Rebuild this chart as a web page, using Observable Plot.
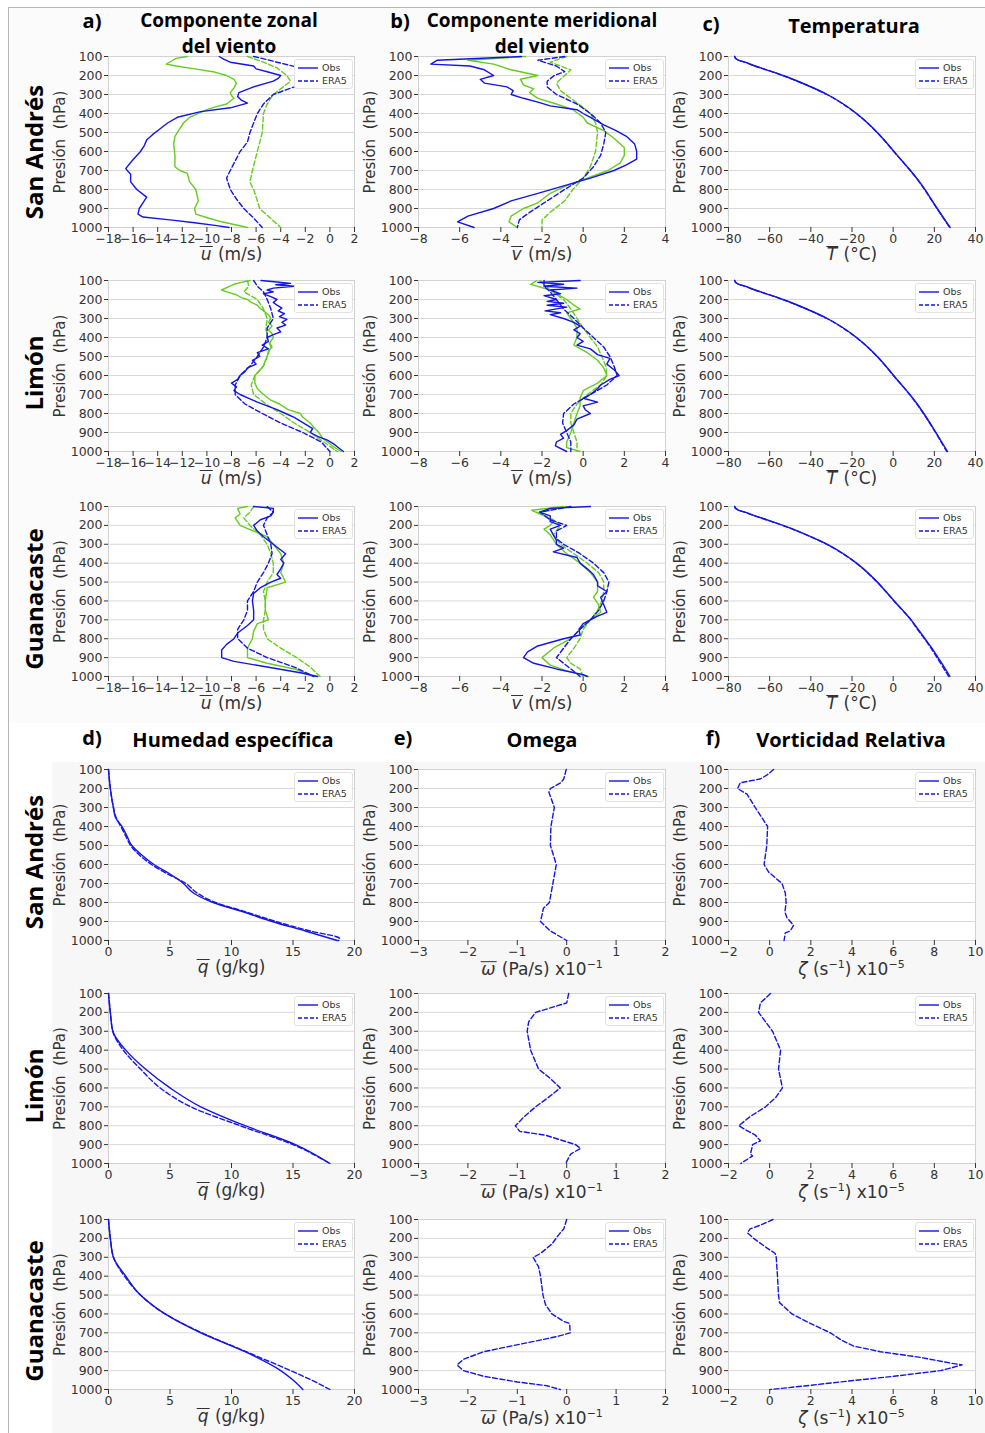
<!DOCTYPE html>
<html><head><meta charset="utf-8">
<script src="https://cdn.jsdelivr.net/npm/d3@7"></script>
<script src="https://cdn.jsdelivr.net/npm/@observablehq/plot@0.6"></script>
<style>
body{margin:0;background:#fff;}
#fig{position:relative;width:985px;height:1433px;overflow:hidden;font-family:"DejaVu Sans",sans-serif;color:#333;}
.bg{position:absolute;}
.ttl{position:absolute;font-family:"Open Sans",sans-serif;font-weight:700;font-size:20px;line-height:20px;height:20px;color:#000;white-space:nowrap;text-align:center;transform:translate(-50%,-50%);}
.ttl.two{font-size:19px;line-height:19px;height:19px;}
.rowl{position:absolute;font-family:"Open Sans",sans-serif;font-weight:700;font-size:24px;color:#000;white-space:nowrap;transform:translate(-50%,-50%) rotate(-90deg);}
.xl{position:absolute;font-size:17px;line-height:20px;white-space:nowrap;transform:translate(-50%,-50%);color:#333;}
.xl sup{font-size:11px;}
.ov{display:inline-block;font-style:italic;border-top:1.3px solid #333;line-height:15px;padding:0 1px;}
.leg{position:absolute;background:#fff;border:1px solid #e2e2e2;border-radius:3px;padding:1px 4px 1px 3px;font-size:9.5px;line-height:13px;color:#333;}
.leg div{display:flex;align-items:center;gap:4px;}
</style></head>
<body><div id="fig"></div>
<script>
// ---------- tick values ----------
const Y_TICKS = [100,200,300,400,500,600,700,800,900,1000];
const X_TICKS_U = [-18,-16,-14,-12,-10,-8,-6,-4,-2,0,2];
const X_TICKS_V = [-8,-6,-4,-2,0,2,4];
const X_TICKS_T = [-80,-60,-40,-20,0,20,40];
const X_TICKS_Q = [0,5,10,15,20];
const X_TICKS_W = [-3,-2,-1,0,1,2];
const X_TICKS_Z = [-2,0,2,4,6,8,10];
const STATIONS = ["San Andrés","Limón","Guanacaste"];
const LEGEND = ["Obs","ERA5"];

// ---------- data: [pressure hPa, value] ----------
// u (m/s) San Andrés
const u_SA_blue_obs = [[100,-9.0],[115,-8.6],[130,-8.1],[150,-6.2],[165,-6.0],[180,-5.1],[200,-4.0],[215,-4.2],[230,-4.6],[260,-6.2],[290,-7.4],[310,-7.5],[330,-7.2],[345,-6.7],[370,-8.1],[390,-10.5],[420,-12.4],[450,-13.2],[480,-13.8],[510,-14.4],[540,-14.9],[570,-15.1],[600,-15.4],[650,-16.1],[690,-16.6],[720,-16.2],[760,-16.2],[800,-15.7],[840,-14.9],[870,-15.2],[900,-15.5],[930,-15.6],[945,-15.2],[960,-13.0],[975,-11.0],[990,-9.2],[1000,-8.2]];
const u_SA_green_obs = [[100,-11.6],[110,-12.5],[125,-12.9],[140,-13.3],[150,-12.5],[165,-11.0],[180,-9.5],[200,-8.4],[220,-7.8],[240,-7.6],[265,-7.8],[290,-8.1],[305,-8.0],[320,-7.8],[350,-8.4],[365,-9.3],[380,-10.0],[420,-11.4],[450,-11.9],[480,-12.2],[520,-12.6],[560,-12.7],[620,-12.6],[680,-12.6],[700,-12.2],[715,-11.6],[760,-11.4],[800,-10.9],[860,-10.7],[900,-11.0],[930,-10.9],[950,-9.9],[970,-8.8],[1000,-6.7]];
const u_SA_blue_era5 = [[100,-6.2],[115,-5.2],[130,-4.3],[160,-2.4],[190,-1.9],[220,-1.8],[240,-2.2],[260,-2.9],[300,-4.6],[350,-5.4],[400,-5.9],[450,-6.2],[500,-6.5],[550,-6.7],[600,-7.3],[650,-7.7],[700,-8.1],[740,-8.4],[800,-8.1],[850,-7.6],[900,-7.0],[950,-6.2],[1000,-5.5]];
const u_SA_green_era5 = [[100,-6.7],[130,-5.4],[160,-4.3],[200,-3.5],[230,-3.2],[260,-3.8],[300,-4.6],[350,-5.1],[400,-5.4],[500,-5.5],[600,-5.9],[700,-6.3],[760,-6.5],[800,-6.2],[900,-5.7],[1000,-4.0]];
// u Limón
const u_LI_blue_obs = [[100,-5.6],[108,-4.3],[115,-3.2],[122,-4.4],[130,-2.9],[140,-4.6],[150,-5.1],[160,-4.6],[170,-5.4],[185,-4.8],[200,-4.3],[215,-4.6],[230,-4.3],[245,-3.9],[260,-4.2],[275,-3.7],[290,-4.1],[305,-3.5],[320,-3.9],[335,-3.6],[350,-4.3],[370,-4.0],[385,-4.6],[400,-5.1],[420,-5.0],[440,-5.5],[460,-5.0],[480,-5.9],[500,-5.7],[520,-6.3],[540,-6.0],[560,-6.7],[580,-6.9],[600,-7.3],[620,-7.5],[640,-8.0],[660,-7.6],[680,-7.8],[700,-7.3],[720,-6.6],[740,-5.9],[760,-5.1],[780,-4.3],[800,-3.6],[820,-2.9],[840,-2.4],[860,-1.9],[880,-1.4],[900,-1.6],[920,-1.0],[940,-0.2],[960,0.3],[980,0.7],[1000,1.1]];
const u_LI_green_obs = [[100,-6.5],[110,-7.2],[120,-7.8],[135,-8.3],[150,-8.8],[160,-8.4],[175,-7.6],[190,-7.2],[200,-6.7],[215,-6.4],[230,-5.9],[245,-5.7],[260,-5.4],[280,-5.0],[300,-4.8],[320,-5.0],[340,-4.7],[360,-5.0],[380,-4.7],[400,-4.6],[430,-4.9],[450,-4.7],[470,-5.0],[500,-5.1],[530,-5.3],[550,-5.4],[580,-5.8],[600,-6.1],[640,-6.1],[670,-5.9],[700,-5.4],[730,-4.8],[750,-4.1],[780,-3.4],[800,-2.4],[820,-2.2],[850,-1.6],[880,-1.2],[900,-0.9],[930,-0.6],[950,-0.2],[975,0.3],[1000,0.9]];
const u_LI_blue_era5 = [[100,-6.2],[130,-5.9],[160,-5.4],[200,-5.1],[250,-4.8],[300,-4.6],[350,-5.1],[400,-5.1],[450,-5.4],[500,-5.9],[550,-6.5],[600,-7.3],[650,-7.7],[700,-7.7],[750,-6.9],[800,-5.5],[850,-4.0],[900,-2.2],[950,-0.7],[1000,0.0]];
const u_LI_green_era5 = [[100,-6.7],[130,-6.6],[160,-7.0],[200,-5.9],[250,-5.4],[300,-5.1],[350,-5.2],[400,-5.1],[450,-4.8],[500,-5.1],[550,-5.4],[600,-6.1],[650,-6.4],[700,-6.2],[750,-5.2],[800,-4.0],[850,-2.9],[900,-1.6],[950,-0.5],[1000,0.6]];
// u Guanacaste
const u_GU_blue_obs = [[100,-6.2],[110,-4.6],[130,-4.6],[150,-4.8],[170,-5.65],[200,-6.2],[230,-5.9],[260,-5.4],[300,-4.6],[330,-4.0],[350,-3.6],[380,-4.0],[400,-3.75],[430,-4.0],[460,-4.3],[480,-4.0],[500,-4.8],[530,-5.65],[560,-6.2],[600,-6.3],[650,-6.2],[700,-6.2],[730,-6.7],[770,-7.5],[800,-7.8],[830,-8.4],[860,-8.8],[900,-8.8],[920,-7.8],[950,-5.1],[980,-2.4],[1000,-1.0]];
const u_GU_green_obs = [[100,-6.7],[110,-7.5],[140,-7.3],[160,-7.7],[200,-7.3],[230,-6.2],[260,-5.1],[300,-4.6],[350,-4.0],[400,-3.75],[450,-4.0],[480,-3.75],[500,-3.6],[530,-5.1],[600,-5.25],[650,-5.25],[680,-5.1],[700,-5.0],[720,-5.9],[760,-6.2],[800,-6.3],[850,-6.7],[900,-6.7],[930,-5.1],[960,-2.9],[1000,-1.3]];
const u_GU_blue_era5 = [[100,-5.1],[130,-4.6],[160,-5.1],[200,-5.4],[250,-5.1],[300,-4.8],[350,-4.7],[400,-5.0],[450,-5.4],[500,-5.9],[550,-6.2],[600,-6.7],[650,-6.7],[700,-7.0],[750,-7.5],[800,-7.5],[850,-6.7],[900,-5.1],[950,-2.9],[1000,-1.3]];
const u_GU_green_era5 = [[100,-6.2],[130,-6.5],[160,-7.0],[200,-6.5],[250,-5.65],[300,-5.1],[350,-4.8],[400,-4.6],[450,-4.6],[500,-5.1],[550,-5.4],[600,-5.25],[650,-5.25],[700,-5.4],[750,-5.4],[800,-5.1],[850,-4.0],[900,-2.7],[950,-1.6],[1000,-0.8]];

// v (m/s) San Andrés
const v_SA_blue_obs = [[100,-3.0],[120,-7.1],[140,-7.4],[150,-5.5],[170,-4.8],[200,-4.35],[220,-5.0],[240,-4.8],[260,-3.7],[280,-3.4],[300,-3.5],[320,-2.9],[340,-2.2],[360,-1.6],[380,-0.3],[400,0.0],[420,0.35],[460,1.0],[490,1.6],[520,2.1],[560,2.5],[600,2.6],[640,2.6],[670,2.1],[700,1.5],[740,0.35],[780,-0.9],[820,-2.2],[860,-3.5],[900,-4.35],[940,-5.6],[970,-6.1],[1000,-5.3]];
const v_SA_green_obs = [[100,-2.8],[120,-5.6],[140,-4.35],[170,-3.5],[200,-2.2],[220,-3.05],[250,-2.9],[270,-2.4],[290,-2.6],[320,-2.2],[350,-1.3],[380,-0.5],[420,0.0],[450,0.2],[490,1.0],[530,1.5],[580,2.0],[620,2.0],[660,1.8],[700,1.2],[740,0.2],[780,-0.8],[820,-1.6],[870,-2.2],[900,-2.9],[940,-3.5],[970,-3.6],[1000,-3.2]];
const v_SA_blue_era5 = [[100,-0.9],[120,-2.2],[150,-1.3],[180,-0.9],[200,-1.4],[230,-1.75],[260,-1.75],[300,-1.3],[350,-0.3],[400,0.35],[450,0.85],[500,1.1],[560,1.0],[620,0.85],[680,0.5],[740,0.0],[800,-0.9],[860,-1.75],[920,-2.6],[960,-3.1],[1000,-3.2]];
const v_SA_green_era5 = [[100,-0.8],[130,-1.6],[170,-0.6],[200,-0.9],[240,-1.3],[280,-1.1],[320,-0.6],[360,-0.1],[400,0.35],[450,0.6],[500,0.7],[600,0.6],[680,0.35],[740,0.0],[800,-0.5],[860,-0.9],[920,-1.6],[960,-2.0],[1000,-2.0]];
// v Limón
const v_LI_blue_obs = [[100,-0.15],[110,-2.2],[120,-0.95],[130,-1.9],[140,-0.3],[150,-1.6],[170,-1.1],[180,-1.9],[200,-1.3],[210,-1.75],[220,-0.95],[230,-1.75],[240,-0.8],[260,-1.85],[270,-1.1],[280,-1.6],[300,-0.95],[320,-0.45],[340,-0.15],[360,-0.45],[380,-0.15],[400,-0.3],[420,0.0],[440,-0.3],[460,0.35],[490,0.7],[510,1.3],[540,1.15],[570,1.5],[600,1.75],[620,1.3],[650,0.85],[670,0.7],[700,0.35],[720,0.0],[740,0.7],[760,0.0],[780,0.1],[800,0.35],[830,-0.3],[860,-0.45],[890,-0.8],[910,-1.1],[930,-0.95],[950,-1.3],[970,-1.35],[1000,-0.8]];
const v_LI_green_obs = [[100,-2.25],[120,-2.55],[150,-1.6],[200,-0.8],[230,-0.45],[250,-0.15],[270,-0.8],[300,-0.6],[350,-0.3],[400,-0.3],[440,-0.45],[480,0.2],[520,0.7],[560,1.0],[600,1.15],[640,0.7],[680,0.0],[720,-0.15],[760,-0.15],[800,-0.3],[850,-0.45],[900,-0.6],[950,-0.8],[980,-0.8],[1000,-0.15]];
const v_LI_blue_era5 = [[100,-1.9],[130,-1.9],[160,-1.6],[200,-1.3],[250,-0.95],[300,-0.45],[350,0.0],[400,0.5],[450,1.0],[500,1.3],[550,1.5],[600,1.65],[650,1.15],[700,0.35],[750,-0.45],[800,-0.95],[850,-1.0],[900,-0.8],[950,-0.6],[1000,-0.6]];
const v_LI_green_era5 = [[100,-2.1],[150,-1.6],[200,-0.95],[250,-0.6],[300,-0.3],[350,0.0],[400,0.35],[450,0.7],[500,0.9],[550,1.1],[600,1.15],[650,0.85],[700,0.2],[750,-0.3],[800,-0.6],[850,-0.6],[900,-0.45],[950,-0.3],[1000,-0.3]];
// v Guanacaste
const v_GU_blue_obs = [[100,0.35],[110,-1.6],[130,-2.1],[150,-1.6],[180,-1.6],[200,-1.1],[220,-1.6],[250,-1.45],[280,-1.3],[300,-1.3],[320,-0.95],[340,-1.45],[370,-0.3],[400,-0.15],[430,0.2],[460,0.5],[500,0.7],[520,0.7],[550,1.15],[580,0.85],[620,1.0],[660,1.15],[680,0.7],[720,0.0],[750,-0.2],[780,-0.15],[800,-0.95],[840,-2.25],[870,-2.7],[900,-2.9],[930,-2.4],[960,-1.3],[990,0.0],[1000,0.2]];
const v_GU_green_obs = [[100,-0.95],[120,-2.5],[150,-1.9],[180,-1.45],[200,-1.6],[220,-1.9],[250,-1.6],[300,-1.3],[350,-0.8],[400,-0.15],[450,0.35],[500,0.7],[550,0.7],[580,0.5],[620,0.75],[660,0.85],[700,0.35],[750,-0.15],[800,-0.6],[850,-1.45],[900,-2.0],[940,-1.6],[970,-0.8],[1000,0.25]];
const v_GU_blue_era5 = [[100,-0.6],[130,-2.1],[170,-1.6],[200,-0.8],[230,-1.3],[270,-1.3],[300,-0.95],[350,-0.15],[400,0.5],[450,1.0],[500,1.25],[550,1.15],[600,1.0],[650,0.75],[700,0.35],[750,-0.15],[800,-0.6],[850,-0.95],[900,-1.3],[930,-0.95],[960,-0.6],[1000,-0.15]];
const v_GU_green_era5 = [[100,-0.8],[130,-2.25],[170,-1.45],[200,-1.1],[250,-1.45],[300,-1.1],[350,-0.45],[400,0.2],[450,0.75],[500,1.0],[550,1.0],[600,0.9],[650,0.7],[700,0.35],[750,0.0],[800,-0.15],[850,-0.45],[900,-0.8],[930,-0.6],[960,-0.15],[1000,0.0]];

// T (°C)
const T_SA_obs = [[100,-77],[110,-76.5],[120,-75],[130,-72],[140,-69.5],[150,-67],[170,-61.5],[200,-53.5],[225,-47.5],[250,-42],[275,-36.8],[300,-32],[350,-24.2],[400,-17.8],[450,-12.4],[500,-7.7],[550,-3.5],[600,0.4],[650,4.4],[700,8.4],[750,12.1],[800,15.4],[850,18.4],[900,21.4],[950,24.5],[1000,27.7]];
const T_SA_era5 = [[100,-77],[110,-76.5],[120,-75],[130,-72.2],[140,-69.7],[150,-67.2],[170,-61.7],[200,-53.7],[225,-47.7],[250,-42.2],[275,-37],[300,-32.2],[350,-24.4],[400,-17.9],[450,-12.5],[500,-7.8],[550,-3.6],[600,0.3],[650,4.3],[700,8.3],[750,12.0],[800,15.3],[850,18.3],[900,21.3],[950,24.4],[1000,27.5]];
const T_LI_obs = [[100,-77],[110,-76.5],[120,-75],[130,-72],[140,-69.5],[150,-67],[170,-61.5],[200,-53.5],[225,-47.5],[250,-42],[275,-36.8],[300,-32],[350,-24.2],[400,-17.8],[450,-12.4],[500,-7.7],[550,-3.6],[600,0.2],[650,4.2],[700,8.1],[750,11.7],[800,14.9],[850,17.9],[900,20.8],[950,23.6],[1000,26.4]];
const T_LI_era5 = [[100,-77],[110,-76.5],[120,-75],[130,-72.2],[140,-69.7],[150,-67.2],[170,-61.7],[200,-53.7],[225,-47.7],[250,-42.2],[275,-37],[300,-32.2],[350,-24.4],[400,-17.9],[450,-12.5],[500,-7.8],[550,-3.7],[600,0.1],[650,4.1],[700,8.0],[750,11.5],[800,14.7],[850,17.7],[900,20.6],[950,23.3],[1000,26.0]];
const T_GU_obs = [[100,-77],[110,-76.5],[120,-75],[130,-72],[140,-69.5],[150,-67],[170,-61.5],[200,-53.5],[225,-47.5],[250,-42],[275,-36.8],[300,-32],[350,-24.2],[400,-17.8],[450,-12.4],[500,-7.7],[550,-3.5],[600,0.5],[650,4.7],[700,8.7],[750,12.1],[800,15.5],[850,18.8],[900,21.8],[950,24.8],[1000,27.6]];
const T_GU_era5 = [[100,-77],[110,-76.5],[120,-75],[130,-72.2],[140,-69.7],[150,-67.2],[170,-61.7],[200,-53.7],[225,-47.7],[250,-42.2],[275,-37],[300,-32.2],[350,-24.4],[400,-17.9],[450,-12.5],[500,-7.8],[550,-3.6],[600,0.4],[650,4.6],[700,8.6],[750,11.8],[800,15.2],[850,18.4],[900,21.3],[950,24.2],[1000,27.0]];

// q (g/kg)
const q_SA_obs = [[100,0.0],[200,0.15],[300,0.4],[350,0.55],[400,1.1],[450,1.5],[500,1.9],[550,2.7],[600,3.7],[650,5.0],[700,6.1],[750,6.9],[800,8.5],[850,11.0],[900,13.3],[950,16.0],[1000,18.6]];
const q_SA_era5 = [[100,0.0],[200,0.15],[300,0.4],[350,0.6],[400,1.0],[450,1.4],[500,1.8],[550,2.5],[600,3.5],[650,4.8],[700,6.3],[750,7.2],[800,8.7],[850,11.2],[900,13.6],[950,16.4],[990,18.8],[1000,18.7]];
const q_LI_obs = [[100,0.0],[200,0.15],[300,0.35],[400,1.4],[500,3.0],[600,5.0],[700,7.5],[800,11.1],[900,15.2],[1000,18.0]];
const q_LI_era5 = [[100,0.0],[200,0.15],[300,0.35],[400,1.2],[500,2.6],[600,4.2],[700,6.7],[800,10.7],[900,15.0],[1000,18.0]];
const q_GU_obs = [[100,0.0],[200,0.15],[300,0.4],[400,1.4],[500,2.6],[600,4.6],[700,7.5],[800,11.1],[900,14.0],[950,15.0],[1000,15.8]];
const q_GU_era5 = [[100,0.0],[200,0.15],[300,0.4],[400,1.3],[500,2.6],[600,4.6],[700,7.6],[800,11.2],[900,14.8],[950,16.5],[1000,18.0]];

// omega (Pa/s x10^-1), ERA5
const w_SA_era5 = [[100,-0.01],[150,-0.06],[170,-0.12],[200,-0.33],[220,-0.36],[300,-0.25],[400,-0.32],[500,-0.33],[600,-0.21],[700,-0.28],[800,-0.35],[830,-0.47],[900,-0.53],[950,-0.33],[1000,0.0]];
const w_LI_era5 = [[100,0.04],[150,0.0],[200,-0.63],[250,-0.77],[300,-0.8],[400,-0.73],[500,-0.57],[550,-0.33],[600,-0.13],[650,-0.37],[700,-0.63],[750,-0.85],[800,-1.04],[830,-0.95],[850,-0.43],[900,0.18],[920,0.28],[950,0.08],[1000,-0.02]];
const w_GU_era5 = [[100,0.0],[150,-0.06],[180,-0.16],[230,-0.3],[280,-0.53],[300,-0.68],[350,-0.57],[400,-0.53],[500,-0.48],[550,-0.43],[600,-0.3],[640,-0.06],[650,0.06],[700,0.07],[720,-0.2],[760,-0.94],[800,-1.68],[840,-2.09],[870,-2.22],[900,-2.09],[930,-1.68],[960,-1.0],[980,-0.4],[1000,-0.13]];

// relative vorticity (s^-1 x10^-5), ERA5
const z_SA_era5 = [[100,0.19],[130,-0.14],[150,-0.46],[170,-1.43],[200,-1.56],[230,-1.1],[300,-0.7],[400,-0.1],[500,-0.14],[600,-0.27],[640,-0.05],[700,0.6],[750,0.76],[800,0.8],[850,0.74],[880,0.84],[920,1.16],[950,1.0],[960,0.76],[1000,0.7]];
const z_LI_era5 = [[100,0.04],[150,-0.45],[200,-0.54],[250,-0.2],[300,0.14],[400,0.53],[500,0.43],[600,0.62],[650,0.3],[700,-0.2],[750,-0.93],[800,-1.5],[820,-1.2],[850,-0.69],[880,-0.45],[900,-0.83],[950,-0.93],[960,-0.83],[1000,-1.4]];
const z_GU_era5 = [[100,0.16],[130,-0.46],[150,-0.95],[170,-1.08],[200,-0.78],[250,-0.14],[280,0.27],[300,0.32],[400,0.38],[500,0.43],[540,0.48],[600,1.08],[650,1.97],[700,2.95],[740,3.51],[770,4.08],[800,5.38],[830,7.32],[860,8.78],[870,9.35],[900,8.3],[930,6.03],[960,3.43],[980,1.81],[1000,0.03]];

// ---------- layout ----------
const BLUE = "#1414e6", GREEN = "#66cc1e";
const COLS = [[108,354],[418,665],[728,975]];
const ROWS = [[56,227],[280,451],[506,676],[769,940],[993,1163],[1219,1389]];
const fig = document.getElementById("fig");

function addDiv(cls, html, style){ const d=document.createElement("div"); d.className=cls; d.innerHTML=html; Object.assign(d.style,style); fig.appendChild(d); return d; }

// backgrounds and outer border
addDiv("bg","",{left:"8px",top:"7px",width:"977px",height:"715px",background:"#fbfbfb",borderLeft:"1px solid #b5b5b5",borderTop:"1px solid #b5b5b5"});
addDiv("bg","",{left:"8px",top:"722px",width:"1px",height:"711px",background:"#b5b5b5"});
addDiv("bg","",{left:"52px",top:"762px",width:"933px",height:"671px",background:"#f7f7f7"});

const XL = {
  u:'<span class="ov">u</span> (m/s)',
  v:'<span class="ov">v</span> (m/s)',
  T:'<span class="ov">T</span> (°C)',
  q:'<span class="ov">q</span> (g/kg)',
  w:'<span class="ov">ω</span> (Pa/s) x10<sup>−1</sup>',
  z:'<i>ζ</i> (s<sup>−1</sup>) x10<sup>−5</sup>'
};

function panel(col,row,xdom,xticks,series,xl,smooth){
  const [L,R]=COLS[col],[T,B]=ROWS[row];
  const ML=64,MR=6,MT=6,MB=26;
  const lines = series.map(([data,color,dashed]) => Plot.line(data,{x:d=>d[1],y:d=>d[0],stroke:color,strokeWidth:1.4,curve:smooth?"monotone-y":"linear",strokeDasharray:dashed?"5,2.5":null}));
  const p = Plot.plot({
    width:R-L+ML+MR, height:B-T+MT+MB,
    marginLeft:ML, marginRight:MR, marginTop:MT, marginBottom:MB,
    style:{fontFamily:"DejaVu Sans",fontSize:"12.5px",color:"#333",background:"transparent",overflow:"visible"},
    x:{domain:xdom},
    y:{domain:[100,1000],reverse:true},
    marks:[
      Plot.frame({fill:"white"}),
      Plot.gridY(Y_TICKS,{stroke:"#d9d9d9",strokeOpacity:1}),
      Plot.frame({stroke:"#d2d2d2"}),
      Plot.axisY(Y_TICKS,{tickSize:4,tickPadding:2,label:null,tickFormat:d=>String(d)}),
      Plot.axisX(xticks,{tickSize:5,tickPadding:2,label:null}),
      Plot.text(["Presión\u00a0 (hPa)"],{text:d=>d,frameAnchor:"left",textAnchor:"middle",rotate:-90,dx:-48,fontSize:15,fill:"#333"}),
      ...lines
    ]
  });
  Object.assign(p.style,{position:"absolute",left:(L-ML)+"px",top:(T-MT)+"px"});
  fig.appendChild(p);
  addDiv("xl",XL[xl],{left:((L+R)/2)+"px",top:(B+27)+"px"});
  // legend
  const sw = (dash)=>`<svg width="20" height="6"><line x1="0" x2="20" y1="3" y2="3" stroke="${BLUE}" stroke-width="1.4" ${dash?'stroke-dasharray="4,2"':''}/></svg>`;
  addDiv("leg",`<div>${sw(false)}<span>${LEGEND[0]}</span></div><div>${sw(true)}<span>${LEGEND[1]}</span></div>`,{left:(R-60)+"px",top:(T+3)+"px",width:"50px"});
}

const U = [[u_SA_blue_obs,u_SA_green_obs,u_SA_blue_era5,u_SA_green_era5],[u_LI_blue_obs,u_LI_green_obs,u_LI_blue_era5,u_LI_green_era5],[u_GU_blue_obs,u_GU_green_obs,u_GU_blue_era5,u_GU_green_era5]];
const V = [[v_SA_blue_obs,v_SA_green_obs,v_SA_blue_era5,v_SA_green_era5],[v_LI_blue_obs,v_LI_green_obs,v_LI_blue_era5,v_LI_green_era5],[v_GU_blue_obs,v_GU_green_obs,v_GU_blue_era5,v_GU_green_era5]];
const TT = [[T_SA_obs,T_SA_era5],[T_LI_obs,T_LI_era5],[T_GU_obs,T_GU_era5]];
const QQ = [[q_SA_obs,q_SA_era5],[q_LI_obs,q_LI_era5],[q_GU_obs,q_GU_era5]];
const WW = [w_SA_era5,w_LI_era5,w_GU_era5];
const ZZ = [z_SA_era5,z_LI_era5,z_GU_era5];

for (let i=0;i<3;i++){
  const [bo,go,be,ge]=U[i];
  panel(0,i,[-18,2],X_TICKS_U,[[go,GREEN,false],[ge,GREEN,true],[be,BLUE,true],[bo,BLUE,false]],"u");
  const [vbo,vgo,vbe,vge]=V[i];
  panel(1,i,[-8,4],X_TICKS_V,[[vgo,GREEN,false],[vge,GREEN,true],[vbe,BLUE,true],[vbo,BLUE,false]],"v");
  panel(2,i,[-80,40],X_TICKS_T,[[TT[i][1],BLUE,true],[TT[i][0],BLUE,false]],"T",true);
  panel(0,i+3,[0,20],X_TICKS_Q,[[QQ[i][1],BLUE,true],[QQ[i][0],BLUE,false]],"q",true);
  panel(1,i+3,[-3,2],X_TICKS_W,[[WW[i],BLUE,true]],"w");
  panel(2,i+3,[-2,10],X_TICKS_Z,[[ZZ[i],BLUE,true]],"z");
}

// row labels
const rowCY = [152,373,599,862,1086,1311];
rowCY.forEach((cy,k)=>addDiv("rowl",STATIONS[k%3],{left:"33px",top:cy+"px"}));

// titles
addDiv("ttl","a)",{left:"92px",top:"21px"});
addDiv("ttl two","Componente zonal",{left:"229px",top:"20px"});
addDiv("ttl two","del viento",{left:"229px",top:"46px"});
addDiv("ttl","b)",{left:"400px",top:"21px"});
addDiv("ttl two","Componente meridional",{left:"542px",top:"20px"});
addDiv("ttl two","del viento",{left:"542px",top:"46px"});
addDiv("ttl","c)",{left:"711px",top:"24px"});
addDiv("ttl","Temperatura",{left:"854px",top:"26px"});
addDiv("ttl","d)",{left:"92px",top:"738px"});
addDiv("ttl","Humedad específica",{left:"233px",top:"740px"});
addDiv("ttl","e)",{left:"403px",top:"738px"});
addDiv("ttl","Omega",{left:"542px",top:"740px"});
addDiv("ttl","f)",{left:"713px",top:"738px"});
addDiv("ttl","Vorticidad Relativa",{left:"851px",top:"740px"});
</script></body></html>
